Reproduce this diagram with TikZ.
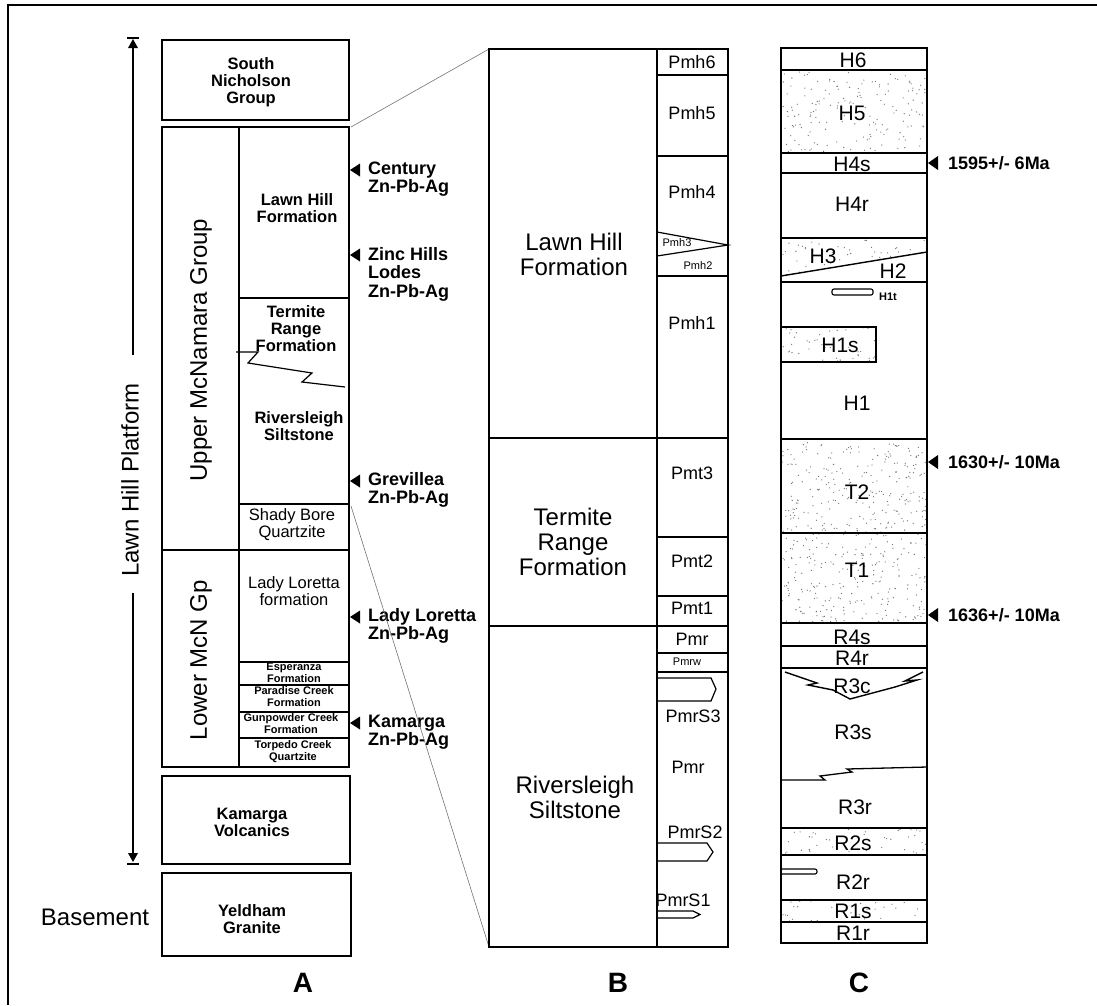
\documentclass[tikz,border=0pt]{standalone}
\usepackage{fontspec}
\setmainfont{Liberation Sans}
% random stipple inside a rectangle: x1,y1,x2,y2,count
\newcommand\stipple[5]{%
    \foreach \k in {1,...,#5}
        \fill[black!55] ({#1+rnd*(#3-#1)},{#2+rnd*(#4-#2)}) circle (.65);}
\begin{document}
\begin{tikzpicture}[x=1pt,y=-1pt,
    box/.style={line width=1.6pt},
    thin link/.style={black!55,line width=.6pt},
    every node/.style={inner sep=0pt,align=center},
    big/.style={font=\fontsize{24}{25}\selectfont},
    unitA/.style={font=\fontsize{16.5}{17}\selectfont\bfseries},
    plainA/.style={font=\fontsize{16.5}{17}\selectfont},
    tinyA/.style={font=\fontsize{11}{12}\selectfont\bfseries},
    deposit/.style={font=\fontsize{18}{18.5}\selectfont\bfseries,
        align=left,anchor=west},
    unitB/.style={font=\fontsize{18}{18}\selectfont},
    smallB/.style={font=\fontsize{11}{11}\selectfont},
    unitC/.style={font=\fontsize{21}{21}\selectfont},
    panel/.style={font=\fontsize{28}{28}\selectfont\bfseries}]
    \useasboundingbox (0,0) rectangle (1097,1005);
    \pgfmathsetseed{42}
    % frame
    \draw[line width=1.5pt] (8,1005) -- (8,5) -- (1097,5);

    % ---------- column A ----------
    \draw[box] (133,44) -- (133,355);
    \draw[box] (133,593) -- (133,856);
    \fill (133,39) -- (128,48) -- (138,48) -- cycle;
    \draw[line width=1.4pt] (127,38) -- (139,38);
    \fill (133,862) -- (128,853) -- (138,853) -- cycle;
    \draw[line width=1.4pt] (127,864) -- (139,864);
    \node[big,rotate=90] (platform) at (130,480) {Lawn Hill Platform};
    \node[big] (basement) at (95,917) {Basement};

    \draw[box] (162,40) rectangle (349,120);
    \draw[box] (162,127) rectangle (349,767);
    \draw[box] (239,127) -- (239,767);
    \draw[box] (162,550) -- (349,550);
    \foreach \y in {298,504,662,685,712,738}
        \draw[box] (239,\y) -- (349,\y);
    \draw[line width=1.2pt] (236,352) -- (258,352) -- (248,363) --
        (312,373) -- (302,382) -- (345,387);
    \draw[box] (162,776) rectangle (350,864);
    \draw[box] (162,873) rectangle (351,956);

    \node[unitA] (southNich) at (251,82) {South\\Nicholson\\Group};
    \node[big,rotate=90] (upperMcN) at (201,350) {Upper McNamara Group};
    \node[big,rotate=90] (lowerMcN) at (201,660) {Lower McN Gp};
    \node[unitA] (lawnHillA) at (297,208) {Lawn Hill\\Formation};
    \node[unitA] (termiteA) at (296,329) {Termite\\Range\\Formation};
    \node[unitA] (riversA) at (299,426) {Riversleigh\\Siltstone};
    \node[plainA] (shadyBore) at (292,525) {Shady Bore\\Quartzite};
    \node[plainA] (ladyLor) at (294,591) {Lady Loretta\\formation};
    \node[tinyA] (esperanza) at (294,673) {Esperanza\\Formation};
    \node[tinyA] (paradise) at (294,697) {Paradise Creek\\Formation};
    \node[tinyA] (gunpowder) at (291,724) {Gunpowder Creek\\Formation};
    \node[tinyA] (torpedo) at (293,752) {Torpedo Creek\\Quartzite};
    \node[unitA] (kamVolc) at (252,822) {Kamarga\\Volcanics};
    \node[unitA] (yeldham) at (252,919) {Yeldham\\Granite};

    \foreach \y in {170,255,481,617,723}
        \fill (350,\y) -- ++(10,-6.5) -- ++(0,13) -- cycle;
    \node[deposit] (century) at (368,179) {Century\\Zn-Pb-Ag};
    \node[deposit] (zincHills) at (368,274) {Zinc Hills\\Lodes\\Zn-Pb-Ag};
    \node[deposit] (grevillea) at (368,490) {Grevillea\\Zn-Pb-Ag};
    \node[deposit] (ladyLorDep) at (368,626) {Lady Loretta\\Zn-Pb-Ag};
    \node[deposit] (kamargaDep) at (368,732) {Kamarga\\Zn-Pb-Ag};
    \node[panel] (panelA) at (303,983) {A};

    % links A -> B
    \coordinate (aTop) at (351,127);
    \coordinate (aBot) at (351,506);
    \coordinate (bTop) at (489,49);
    \coordinate (bBot) at (489,947);
    \draw[thin link] (aTop) -- (bTop);
    \draw[thin link] (aBot) -- (bBot);

    % ---------- column B ----------
    \draw[box] (489,49) rectangle (728,947);
    \draw[box] (657,49) -- (657,947);
    \foreach \y in {438,626}
        \draw[box] (489,\y) -- (728,\y);
    \foreach \y in {75,156,276,537,596,653,672}
        \draw[box] (657,\y) -- (728,\y);
    \draw[line width=1.2pt] (657,232) -- (728,245) -- (657,256);
    \draw[line width=1.2pt] (657,678) -- (711,678) -- (716,689) --
        (711,701) -- (657,701);
    \draw[line width=1.2pt] (657,843) -- (707,843) -- (713,852) --
        (707,861) -- (657,861);
    \draw[line width=1.2pt] (657,911) -- (693,911) -- (700,914.5) --
        (693,918) -- (657,918);

    \node[big] (lawnHillB) at (574,254) {Lawn Hill\\Formation};
    \node[big] (termiteB) at (573,542) {Termite\\Range\\Formation};
    \node[big] (riversB) at (575,797) {Riversleigh\\Siltstone};
    \node[unitB] (pmhSix) at (692,62) {Pmh6};
    \node[unitB] (pmhFive) at (692,113) {Pmh5};
    \node[unitB] (pmhFour) at (692,192) {Pmh4};
    \node[smallB] (pmhThree) at (677,243) {Pmh3};
    \node[smallB] (pmhTwo) at (698,266) {Pmh2};
    \node[unitB] (pmhOne) at (692,323) {Pmh1};
    \node[unitB] (pmtThree) at (692,473) {Pmt3};
    \node[unitB] (pmtTwo) at (692,561) {Pmt2};
    \node[unitB] (pmtOne) at (692,608) {Pmt1};
    \node[unitB] (pmrTop) at (692,639) {Pmr};
    \node[smallB] (pmrw) at (687,662) {Pmrw};
    \node[unitB] (pmrSThree) at (693,716) {PmrS3};
    \node[unitB] (pmrMid) at (688,767) {Pmr};
    \node[unitB] (pmrSTwo) at (695,832) {PmrS2};
    \node[unitB] (pmrSOne) at (683,900) {PmrS1};
    \node[panel] (panelB) at (618,983) {B};

    % ---------- column C ----------
    \stipple{781}{70}{927}{153}{170}
    \begin{scope}
        \clip (781,238) -- (927,238) -- (927,252) -- (781,276) -- cycle;
        \stipple{781}{238}{927}{276}{60}
    \end{scope}
    \stipple{781}{327}{876}{362}{50}
    \stipple{781}{439}{927}{533}{260}
    \stipple{781}{533}{927}{623}{250}
    \stipple{781}{828}{927}{855}{45}
    \stipple{781}{900}{927}{922}{35}

    \draw[box] (781,48) rectangle (927,943);
    \foreach \y in {70,153,173,238,282,439,533,623,646,668,828,855,900,922}
        \draw[box] (781,\y) -- (927,\y);
    \draw[line width=1.4pt] (781,276) -- (927,252);
    \draw[line width=1.2pt] (781,362) -- (876,362) -- (876,327) -- (781,327);
    \draw[line width=1.1pt,rounded corners=2] (832,289) rectangle (873,295);
    \draw[line width=1.1pt,rounded corners=2] (781,869) -- (817,869) --
        (817,874) -- (781,874);
    \draw[line width=1.4pt] (785,672) -- (817,683) -- (808,685) --
        (833,690) -- (850,699) -- (895,687) -- (917,680) -- (905,681) --
        (923,672);
    \draw[line width=1.3pt] (781,780) -- (825,780) -- (820,776) --
        (852,772) -- (847,769) -- (927,767);

    \node[unitC] (hSix) at (853,60) {H6};
    \node[unitC] (hFive) at (852,113) {H5};
    \node[unitC] (hFourS) at (852,164) {H4s};
    \node[unitC] (hFourR) at (852,204) {H4r};
    \node[unitC] (hThree) at (823,256) {H3};
    \node[unitC] (hTwo) at (893,271) {H2};
    \node[tinyA] (hOneT) at (888,297) {H1t};
    \node[unitC] (hOneS) at (840,345) {H1s};
    \node[unitC] (hOne) at (857,403) {H1};
    \node[unitC] (tTwo) at (857,492) {T2};
    \node[unitC] (tOne) at (857,570) {T1};
    \node[unitC] (rFourS) at (852,637) {R4s};
    \node[unitC] (rFourR) at (852,658) {R4r};
    \node[unitC] (rThreeC) at (852,686) {R3c};
    \node[unitC] (rThreeS) at (853,732) {R3s};
    \node[unitC] (rThreeR) at (855,807) {R3r};
    \node[unitC] (rTwoS) at (853,843) {R2s};
    \node[unitC] (rTwoR) at (853,882) {R2r};
    \node[unitC] (rOneS) at (853,911) {R1s};
    \node[unitC] (rOneR) at (853,933) {R1r};

    \foreach \y in {163,462,615}
        \fill (928,\y) -- ++(10,-7) -- ++(0,14) -- cycle;
    \node[deposit] (ageH) at (948,163) {1595+/- 6Ma};
    \node[deposit] (ageT) at (948,462) {1630+/- 10Ma};
    \node[deposit] (ageR) at (948,615) {1636+/- 10Ma};
    \node[panel] (panelC) at (859,983) {C};
\end{tikzpicture}
\end{document}
